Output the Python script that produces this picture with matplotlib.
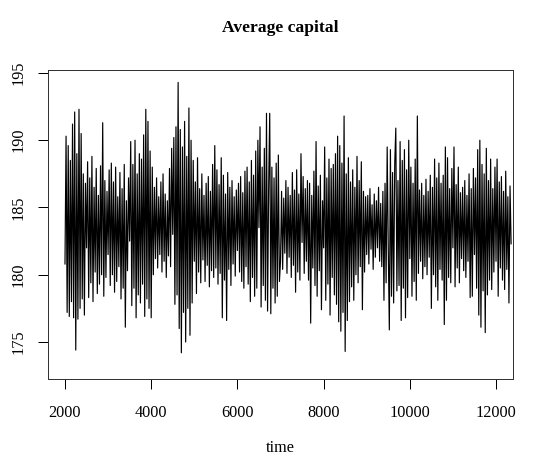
import numpy as np
import matplotlib
matplotlib.use("Agg")
import matplotlib.pyplot as plt

# time axis: start and step of the sampled series
t_start = 2000
t_step = 25

# average capital values, read in blocks of 500 time units
capital = [
    # 2000-2475
    180.8, 190.3, 177.2, 189.6, 176.9, 188.5, 178.0, 191.2, 176.8, 192.1,
    174.4, 189.0, 176.7, 192.3, 177.5, 190.5, 178.2, 187.5, 177.0, 186.8,
    # 2500-2975
    182.0, 188.4, 178.3, 187.2, 179.4, 188.8, 178.0, 186.5, 180.2, 187.9,
    178.6, 185.9, 179.3, 188.1, 180.0, 191.3, 178.4, 187.0, 179.8, 186.2,
    # 3000-3475
    181.5, 187.8, 179.2, 188.3, 180.0, 186.9, 178.7, 188.0, 179.5, 185.8,
    180.6, 187.6, 178.2, 186.4, 179.0, 188.2, 176.1, 185.5, 180.3, 187.2,
    # 3500-3975
    182.5, 189.9, 177.7, 188.2, 179.0, 190.0, 176.8, 187.5, 178.5, 189.0,
    177.9, 188.6, 179.3, 190.4, 176.9, 192.3, 178.2, 191.4, 177.5, 189.2,
    # 4000-4475
    176.8, 188.0, 180.0, 186.5, 181.2, 187.2, 180.5, 185.8, 181.5, 186.9,
    180.2, 187.5, 181.0, 186.0, 179.8, 185.5, 181.4, 187.9, 180.6, 189.4,
    # 4500-4975
    183.0, 190.2, 177.8, 191.0, 178.5, 194.3, 176.0, 190.8, 174.2, 189.5,
    177.2, 191.4, 175.0, 188.8, 177.5, 192.4, 175.5, 190.0, 177.9, 188.5,
    # 5000-5475
    181.0, 186.9, 178.6, 188.7, 180.2, 186.4, 179.4, 187.5, 181.1, 185.9,
    179.5, 186.8, 180.7, 187.3, 179.1, 186.2, 180.3, 188.2, 179.8, 189.6,
    # 5500-5975
    180.5, 187.8, 179.3, 186.7, 180.1, 188.7, 176.8, 187.4, 179.6, 186.0,
    176.6, 187.6, 180.4, 186.5, 179.2, 187.0, 180.8, 185.8, 179.9, 186.3,
    # 6000-6475
    181.8, 186.8, 180.2, 187.3, 179.5, 186.1, 179.0, 187.7, 180.6, 188.0,
    179.3, 186.9, 178.0, 188.5, 179.8, 187.4, 178.4, 189.2, 179.0, 190.0,
    # 6500-6975
    183.5, 191.0, 177.6, 188.0, 179.2, 189.4, 178.1, 192.0, 177.3, 186.5,
    192.0, 177.1, 188.0, 179.0, 187.2, 177.9, 188.3, 178.4, 188.9, 179.5,
    # 7000-7475
    181.0, 186.2, 180.4, 185.7, 181.6, 187.0, 180.1, 186.5, 181.3, 185.9,
    179.8, 187.6, 180.7, 186.3, 178.7, 187.8, 180.2, 186.0, 179.6, 189.0,
    # 7500-7975
    182.4, 187.3, 180.1, 186.4, 181.0, 187.0, 179.6, 186.8, 176.4, 185.9,
    180.5, 187.7, 179.2, 189.9, 178.4, 186.6, 180.3, 187.4, 177.4, 185.5,
    # 8000-8475
    182.0, 189.5, 178.1, 187.2, 179.3, 188.6, 177.0, 187.9, 179.8, 188.2,
    178.5, 189.0, 177.8, 190.3, 176.5, 189.6, 175.8, 188.3, 177.2, 191.8,
    # 8500-8975
    174.3, 187.5, 176.6, 188.7, 178.0, 186.9, 179.1, 187.8, 178.1, 186.5,
    180.0, 188.8, 179.4, 187.0, 180.6, 188.4, 177.4, 186.2, 180.2, 185.8,
    # 9000-9475
    181.5, 185.9, 180.8, 186.4, 181.9, 185.2, 180.4, 186.0, 181.3, 185.5,
    182.0, 186.5, 181.0, 185.3, 180.6, 186.2, 178.1, 186.8, 179.4, 189.5,
    # 9500-9975
    182.0, 175.9, 189.3, 178.4, 187.6, 177.9, 188.2, 190.9, 178.8, 187.0,
    179.2, 189.9, 176.6, 188.5, 179.0, 189.3, 176.8, 187.8, 178.3, 190.0,
    # 10000-10475
    181.2, 188.0, 178.4, 186.8, 179.5, 188.6, 178.1, 191.8, 180.1, 186.3,
    181.0, 186.8, 179.7, 185.9, 180.6, 187.1, 180.0, 186.2, 181.3, 187.4,
    # 10500-10975
    177.5, 186.5, 180.0, 188.6, 179.1, 187.2, 178.1, 188.3, 180.4, 186.8,
    179.6, 187.4, 176.3, 189.5, 178.1, 188.7, 179.8, 186.4, 179.4, 187.9,
    # 11000-11475
    182.0, 189.5, 179.1, 186.7, 180.5, 188.0, 179.4, 186.1, 181.2, 186.5,
    180.3, 187.0, 179.8, 185.9, 181.0, 187.5, 178.3, 186.4, 178.4, 187.9,
    # 11500-11975
    181.5, 187.2, 179.0, 189.3, 177.0, 190.0, 176.1, 188.2, 178.8, 187.5,
    175.7, 189.4, 178.5, 187.0, 179.6, 188.6, 178.9, 186.4, 180.2, 188.0,
    # 12000-12350
    181.0, 188.6, 178.4, 186.9, 180.5, 187.3, 179.6, 186.2, 178.9, 187.7,
    180.4, 185.8, 177.9, 186.6, 182.3,
]

x_ticks = [2000, 4000, 6000, 8000, 10000, 12000]
y_ticks = [175, 180, 185, 190, 195]

time = t_start + t_step * np.arange(len(capital))

plt.rcParams['font.family'] = ['Liberation Serif', 'DejaVu Serif']

fig = plt.figure(figsize=(5.39, 4.59), dpi=100)
ax = fig.add_axes([48/539, 1-379/459, (513-48)/539, (379-70)/459])
ax.plot(time, capital, color='black', linewidth=0.85, antialiased=True)

ax.set_xlim(1606, 12394)
ax.set_ylim(172.25, 195.22)
ax.set_xticks(x_ticks)
ax.set_xticklabels([str(v) for v in x_ticks])
ax.set_yticks(y_ticks)
ax.set_yticklabels([str(v) for v in y_ticks], rotation=90, va='center')

ax.tick_params(axis='both', direction='out', length=7.2, width=0.72,
               labelsize=11.7, color='black')
ax.tick_params(axis='x', pad=11.5)
ax.tick_params(axis='y', pad=8.5)
for s in ax.spines.values():
    s.set_linewidth(0.72)
    s.set_color('#333333')

ax.set_xlabel('time', fontsize=11.7, labelpad=14)
ax.set_title('Average capital', fontsize=12.6, fontweight='bold', pad=27)

fig.savefig('out.png', dpi=100)
